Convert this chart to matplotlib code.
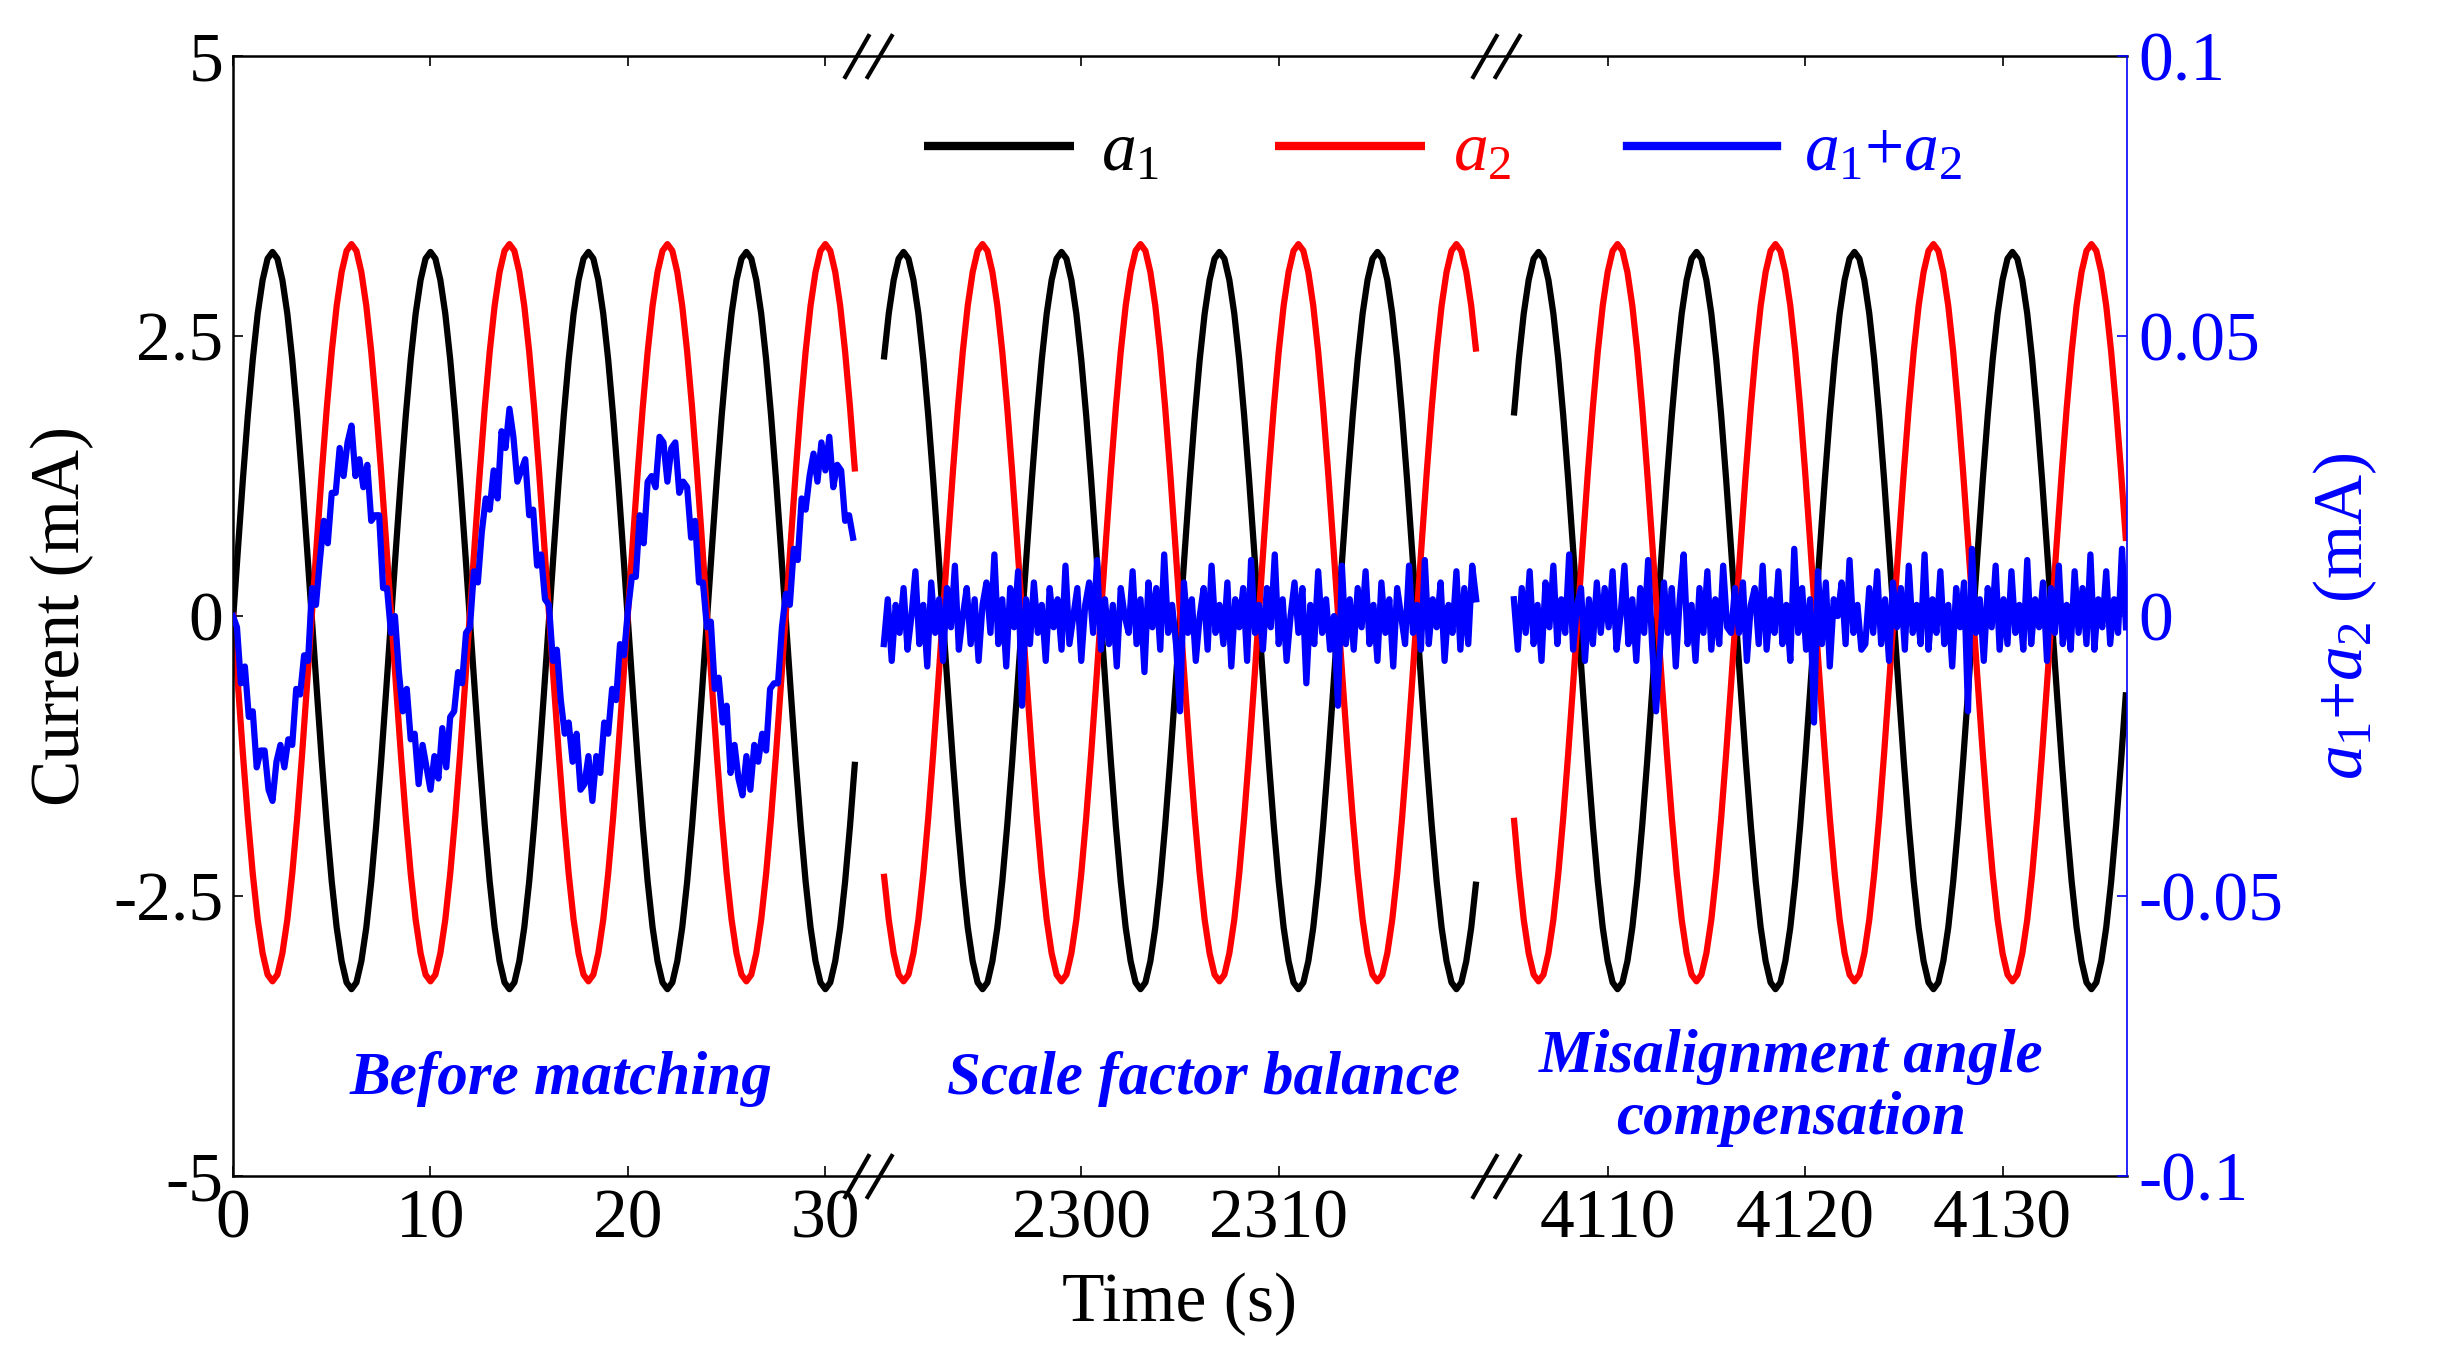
import numpy as np
import matplotlib
matplotlib.use("Agg")
import matplotlib.pyplot as plt
from matplotlib.path import Path
from matplotlib.transforms import blended_transform_factory

SAMPLE_STEP = 0.25
seg_starts = [0.0, 2290.0, 4105.25]

a1_before = [
    -0.04, 0.60, 1.22, 1.79, 2.29, 2.70, 3.00, 3.19, 3.25, 3.19, 3.00, 2.70, 2.29, 1.79, 1.22, 0.60,
    -0.04, -0.68, -1.30, -1.87, -2.37, -2.78, -3.08, -3.27, -3.33, -3.27, -3.08, -2.78, -2.37, -1.87, -1.30, -0.68,
    -0.04, 0.60, 1.22, 1.79, 2.29, 2.70, 3.00, 3.19, 3.25, 3.19, 3.00, 2.70, 2.29, 1.79, 1.22, 0.60,
    -0.04, -0.68, -1.30, -1.87, -2.37, -2.78, -3.08, -3.27, -3.33, -3.27, -3.08, -2.78, -2.37, -1.87, -1.30, -0.68,
    -0.04, 0.60, 1.22, 1.79, 2.29, 2.70, 3.00, 3.19, 3.25, 3.19, 3.00, 2.70, 2.29, 1.79, 1.22, 0.60,
    -0.04, -0.68, -1.30, -1.87, -2.37, -2.78, -3.08, -3.27, -3.33, -3.27, -3.08, -2.78, -2.37, -1.87, -1.30, -0.68,
    -0.04, 0.60, 1.22, 1.79, 2.29, 2.70, 3.00, 3.19, 3.25, 3.19, 3.00, 2.70, 2.29, 1.79, 1.22, 0.60,
    -0.04, -0.68, -1.30, -1.87, -2.37, -2.78, -3.08, -3.27, -3.33, -3.27, -3.08, -2.78, -2.37, -1.87, -1.30,
]
a2_before = [
    0.03, -0.61, -1.23, -1.80, -2.30, -2.71, -3.01, -3.20, -3.26, -3.20, -3.01, -2.71, -2.30, -1.80, -1.23, -0.61,
    0.03, 0.67, 1.29, 1.86, 2.36, 2.77, 3.07, 3.26, 3.32, 3.26, 3.07, 2.77, 2.36, 1.86, 1.29, 0.67,
    0.03, -0.61, -1.23, -1.80, -2.30, -2.71, -3.01, -3.20, -3.26, -3.20, -3.01, -2.71, -2.30, -1.80, -1.23, -0.61,
    0.03, 0.67, 1.29, 1.86, 2.36, 2.77, 3.07, 3.26, 3.32, 3.26, 3.07, 2.77, 2.36, 1.86, 1.29, 0.67,
    0.03, -0.61, -1.23, -1.80, -2.30, -2.71, -3.01, -3.20, -3.26, -3.20, -3.01, -2.71, -2.30, -1.80, -1.23, -0.61,
    0.03, 0.67, 1.29, 1.86, 2.36, 2.77, 3.07, 3.26, 3.32, 3.26, 3.07, 2.77, 2.36, 1.86, 1.29, 0.67,
    0.03, -0.61, -1.23, -1.80, -2.30, -2.71, -3.01, -3.20, -3.26, -3.20, -3.01, -2.71, -2.30, -1.80, -1.23, -0.61,
    0.03, 0.67, 1.29, 1.86, 2.36, 2.77, 3.07, 3.26, 3.32, 3.26, 3.07, 2.77, 2.36, 1.86, 1.29,
]

a1_scale = [
    2.29, 2.70, 3.00, 3.19, 3.25, 3.19, 3.00, 2.70, 2.29, 1.79, 1.22, 0.60, -0.04, -0.68, -1.30, -1.87,
    -2.37, -2.78, -3.08, -3.27, -3.33, -3.27, -3.08, -2.78, -2.37, -1.87, -1.30, -0.68, -0.04, 0.60, 1.22, 1.79,
    2.29, 2.70, 3.00, 3.19, 3.25, 3.19, 3.00, 2.70, 2.29, 1.79, 1.22, 0.60, -0.04, -0.68, -1.30, -1.87,
    -2.37, -2.78, -3.08, -3.27, -3.33, -3.27, -3.08, -2.78, -2.37, -1.87, -1.30, -0.68, -0.04, 0.60, 1.22, 1.79,
    2.29, 2.70, 3.00, 3.19, 3.25, 3.19, 3.00, 2.70, 2.29, 1.79, 1.22, 0.60, -0.04, -0.68, -1.30, -1.87,
    -2.37, -2.78, -3.08, -3.27, -3.33, -3.27, -3.08, -2.78, -2.37, -1.87, -1.30, -0.68, -0.04, 0.60, 1.22, 1.79,
    2.29, 2.70, 3.00, 3.19, 3.25, 3.19, 3.00, 2.70, 2.29, 1.79, 1.22, 0.60, -0.04, -0.68, -1.30, -1.87,
    -2.37, -2.78, -3.08, -3.27, -3.33, -3.27, -3.08, -2.78, -2.37,
]
a2_scale = [
    -2.30, -2.71, -3.01, -3.20, -3.26, -3.20, -3.01, -2.71, -2.30, -1.80, -1.23, -0.61, 0.03, 0.67, 1.29, 1.86,
    2.36, 2.77, 3.07, 3.26, 3.32, 3.26, 3.07, 2.77, 2.36, 1.86, 1.29, 0.67, 0.03, -0.61, -1.23, -1.80,
    -2.30, -2.71, -3.01, -3.20, -3.26, -3.20, -3.01, -2.71, -2.30, -1.80, -1.23, -0.61, 0.03, 0.67, 1.29, 1.86,
    2.36, 2.77, 3.07, 3.26, 3.32, 3.26, 3.07, 2.77, 2.36, 1.86, 1.29, 0.67, 0.03, -0.61, -1.23, -1.80,
    -2.30, -2.71, -3.01, -3.20, -3.26, -3.20, -3.01, -2.71, -2.30, -1.80, -1.23, -0.61, 0.03, 0.67, 1.29, 1.86,
    2.36, 2.77, 3.07, 3.26, 3.32, 3.26, 3.07, 2.77, 2.36, 1.86, 1.29, 0.67, 0.03, -0.61, -1.23, -1.80,
    -2.30, -2.71, -3.01, -3.20, -3.26, -3.20, -3.01, -2.71, -2.30, -1.80, -1.23, -0.61, 0.03, 0.67, 1.29, 1.86,
    2.36, 2.77, 3.07, 3.26, 3.32, 3.26, 3.07, 2.77, 2.36,
]

a1_misalign = [
    1.79, 2.29, 2.70, 3.00, 3.19, 3.25, 3.19, 3.00, 2.70, 2.29, 1.79, 1.22, 0.60, -0.04, -0.68, -1.30,
    -1.87, -2.37, -2.78, -3.08, -3.27, -3.33, -3.27, -3.08, -2.78, -2.37, -1.87, -1.30, -0.68, -0.04, 0.60, 1.22,
    1.79, 2.29, 2.70, 3.00, 3.19, 3.25, 3.19, 3.00, 2.70, 2.29, 1.79, 1.22, 0.60, -0.04, -0.68, -1.30,
    -1.87, -2.37, -2.78, -3.08, -3.27, -3.33, -3.27, -3.08, -2.78, -2.37, -1.87, -1.30, -0.68, -0.04, 0.60, 1.22,
    1.79, 2.29, 2.70, 3.00, 3.19, 3.25, 3.19, 3.00, 2.70, 2.29, 1.79, 1.22, 0.60, -0.04, -0.68, -1.30,
    -1.87, -2.37, -2.78, -3.08, -3.27, -3.33, -3.27, -3.08, -2.78, -2.37, -1.87, -1.30, -0.68, -0.04, 0.60, 1.22,
    1.79, 2.29, 2.70, 3.00, 3.19, 3.25, 3.19, 3.00, 2.70, 2.29, 1.79, 1.22, 0.60, -0.04, -0.68, -1.30,
    -1.87, -2.37, -2.78, -3.08, -3.27, -3.33, -3.27, -3.08, -2.78, -2.37, -1.87, -1.30, -0.68,
]
a2_misalign = [
    -1.80, -2.30, -2.71, -3.01, -3.20, -3.26, -3.20, -3.01, -2.71, -2.30, -1.80, -1.23, -0.61, 0.03, 0.67, 1.29,
    1.86, 2.36, 2.77, 3.07, 3.26, 3.32, 3.26, 3.07, 2.77, 2.36, 1.86, 1.29, 0.67, 0.03, -0.61, -1.23,
    -1.80, -2.30, -2.71, -3.01, -3.20, -3.26, -3.20, -3.01, -2.71, -2.30, -1.80, -1.23, -0.61, 0.03, 0.67, 1.29,
    1.86, 2.36, 2.77, 3.07, 3.26, 3.32, 3.26, 3.07, 2.77, 2.36, 1.86, 1.29, 0.67, 0.03, -0.61, -1.23,
    -1.80, -2.30, -2.71, -3.01, -3.20, -3.26, -3.20, -3.01, -2.71, -2.30, -1.80, -1.23, -0.61, 0.03, 0.67, 1.29,
    1.86, 2.36, 2.77, 3.07, 3.26, 3.32, 3.26, 3.07, 2.77, 2.36, 1.86, 1.29, 0.67, 0.03, -0.61, -1.23,
    -1.80, -2.30, -2.71, -3.01, -3.20, -3.26, -3.20, -3.01, -2.71, -2.30, -1.80, -1.23, -0.61, 0.03, 0.67, 1.29,
    1.86, 2.36, 2.77, 3.07, 3.26, 3.32, 3.26, 3.07, 2.77, 2.36, 1.86, 1.29, 0.67,
]

# a1+a2 in units of 0.001 mA (right axis), spanning each segment
sum_spans = [(0.0, 31.4), (2290.0, 2320.0), (4105.25, 4136.25)]
sum_before = [
    0, -2, -12, -9, -18, -17, -27, -24, -24, -31, -33, -26, -23, -27, -22, -23, -13, -14, -7, -8,
    5, 2, 10, 17, 13, 22, 22, 30, 25, 31, 34, 25, 28, 23, 27, 17, 18, 18, 5, 5,
    -3, 0, -10, -17, -13, -22, -21, -30, -23, -27, -31, -25, -29, -20, -27, -18, -17, -10, -12, -3,
    -2, 8, 6, 15, 21, 19, 26, 21, 33, 30, 37, 32, 24, 26, 28, 18, 19, 9, 11, 3,
    2, -8, -6, -15, -21, -19, -26, -21, -31, -30, -25, -33, -25, -28, -19, -21, -13, -15, -5, -7,
    1, 7, 7, 18, 13, 24, 25, 23, 32, 31, 24, 30, 31, 22, 24, 23, 14, 17, 6, 6,
    -2, -1, -13, -11, -19, -16, -28, -23, -29, -32, -25, -31, -23, -26, -21, -24, -13, -12, -12, -2,
    4, 2, 12, 10, 21, 19, 25, 29, 24, 31, 26, 32, 23, 27, 26, 17, 18, 14,
]
sum_scale = [
    -5, 3, -8, 2, -3, 5, -6, 0, 8, -5, 2, -9, 6, -3, 3, -8, 5, -2, 9, -6,
    0, 5, -5, 3, -8, 2, 6, -3, 11, -5, 3, -9, 5, -2, 8, -16, 3, -5, 6, -3,
    2, -8, 5, -2, 3, -6, 9, -5, 0, 5, -8, 2, 6, -3, 10, -6, 3, -5, 2, -9,
    5, 0, -3, 8, -5, 3, -10, 6, -2, 5, -6, 11, -3, 2, -5, -17, 6, -3, 3, -8,
    0, 5, -6, 9, -3, 2, -5, 6, -9, 3, -2, 5, -8, 10, -3, 2, -6, 5, -2, 11,
    -5, 3, -8, 0, 6, -3, 5, -12, 2, -5, 8, -3, 3, -6, 0, -16, 9, -5, 3, -6,
    5, -2, 8, -5, 2, -8, 6, -3, 3, -9, 5, 0, -5, 9, -3, 2, -6, 10, -5, 3,
    -2, 6, -8, 2, -3, 8, -6, 5, -5, 9, 3,
]
sum_misalign = [
    3, -6, 5, -3, 8, -5, 2, -8, 6, -2, 9, -5, 3, -3, 11, -6, 2, 5, -8, 3,
    -5, 6, -3, 5, -2, 8, -6, 0, 9, -5, 3, -8, 5, -3, 10, -5, -17, -6, 6, -3,
    5, -9, 3, 11, -5, 2, -8, 5, -3, 8, -6, 3, -5, 9, -2, -3, 5, -3, 6, -8,
    2, 5, -5, 9, -6, 3, -3, 8, -5, 2, -8, 12, -3, 5, -6, 3, -19, 8, -5, 6,
    -9, 3, 0, 6, -5, 10, -3, 2, -6, -5, 5, -3, 8, -5, 3, -8, 6, -2, 5, -6,
    9, -3, 2, -5, 11, -6, 3, -3, 8, -5, 2, -9, 5, -2, 6, -17, 12, -3, 3, -8,
    5, -2, 9, -6, 3, -5, 8, -3, 2, -6, 10, -5, 3, -2, 6, -8, 5, -3, 9, -5,
    2, -6, 8, -3, 5, -5, 11, -6, 3, -2, 8, -5, 3, -3, 12, -2,
]

x_ticks = [0, 10, 20, 30, 2300, 2310, 4110, 4120, 4130]
y_ticks = [-5, -2.5, 0, 2.5, 5]
y_tick_labels = ["-5", "-2.5", "0", "2.5", "5"]
y2_ticks = [-0.1, -0.05, 0, 0.05, 0.1]
y2_tick_labels = ["-0.1", "-0.05", "0", "0.05", "0.1"]
stage_names = ["Before matching", "Scale factor balance",
               "Misalignment angle\ncompensation"]

# broken time axis: real time -> compressed axis position
T_KNOTS = [-100.0, 0.0, 31.5, 2289.9, 2320.1, 4105.2, 4136.3, 4236.3]
U_KNOTS = [-100.0, 0.0, 31.5, 32.86, 63.06, 64.82, 95.92, 195.92]


def fwd(t):
    return np.interp(t, T_KNOTS, U_KNOTS)


def inv(u):
    return np.interp(u, U_KNOTS, T_KNOTS)


plt.rcParams["font.family"] = ["Liberation Serif", "DejaVu Serif"]
plt.rcParams["mathtext.fontset"] = "custom"
plt.rcParams["mathtext.rm"] = "Liberation Serif"
plt.rcParams["mathtext.it"] = "Liberation Serif:italic"
plt.rcParams["mathtext.bf"] = "Liberation Serif:bold"

BLUE = "#0000ff"
RED = "#ff0000"
FS = 50
LW = 4.5

fig = plt.figure(figsize=(24.4, 13.63), dpi=100)
ax = fig.add_axes([0.0955, 0.137, 0.7762, 0.822])
ax.set_xscale("function", functions=(fwd, inv))

a1_segs = [a1_before, a1_scale, a1_misalign]
a2_segs = [a2_before, a2_scale, a2_misalign]
for i, (s1, s2) in enumerate(zip(a1_segs, a2_segs)):
    t = seg_starts[i] + SAMPLE_STEP * np.arange(len(s1))
    l1, = ax.plot(t, s1, color="k", lw=LW, solid_capstyle="butt")
    l2, = ax.plot(t, s2, color=RED, lw=LW, solid_capstyle="butt")

ax.set_xlim(0, 4136.3)
ax.set_ylim(-5, 5)
ax.set_xticks(x_ticks)
ax.set_xticklabels([str(v) for v in x_ticks])
ax.set_yticks(y_ticks)
ax.set_yticklabels(y_tick_labels)
ax.minorticks_off()
ax.tick_params(direction="in", length=7, width=1.2, top=True, right=False,
               labelsize=FS, pad=7)
ax.tick_params(axis="x", pad=9.5)
ax.set_xlabel("Time (s)", fontsize=FS, labelpad=14)
ax.set_ylabel("Current (mA)", fontsize=FS, labelpad=14)
for side in ("left", "top", "bottom"):
    ax.spines[side].set_linewidth(1.8)
ax.spines["right"].set_visible(False)

ax2 = ax.twinx()
for i, seg in enumerate([sum_before, sum_scale, sum_misalign]):
    t = np.linspace(sum_spans[i][0], sum_spans[i][1], len(seg))
    l3, = ax2.plot(t, np.array(seg) * 1e-3, color=BLUE, lw=LW)
ax2.set_ylim(-0.1, 0.1)
ax2.set_yticks(y2_ticks)
ax2.set_yticklabels(y2_tick_labels)
ax2.minorticks_off()
ax2.tick_params(axis="y", direction="in", length=7, width=1.2, colors=BLUE,
                labelsize=FS, pad=8)
for side in ("left", "top", "bottom"):
    ax2.spines[side].set_visible(False)
ax2.spines["right"].set_color(BLUE)
ax2.spines["right"].set_linewidth(1.2)
ax2.set_ylabel(r"$a_1$+$a_2$ (mA)", fontsize=FS, color=BLUE, labelpad=20)

leg = ax2.legend([l1, l2, l3], [r"$a_1$", r"$a_2$", r"$a_1$+$a_2$"],
                 loc="center", bbox_to_anchor=(0.639, 0.913), ncol=3,
                 frameon=False, fontsize=FS, handlelength=2.16,
                 handletextpad=0.39, columnspacing=1.67, labelcolor="linecolor")
for h in leg.get_lines():
    h.set_linewidth(6)

# stage annotations
ax2.text(16.6, -0.0826, stage_names[0], color=BLUE, fontsize=44,
         fontweight="bold", fontstyle="italic", ha="center", va="center")
ax2.text(2306.2, -0.0826, stage_names[1], color=BLUE, fontsize=44,
         fontweight="bold", fontstyle="italic", ha="center", va="center")
ax2.text(4119.3, -0.0842, stage_names[2], color=BLUE, fontsize=44,
         fontweight="bold", fontstyle="italic", ha="center", va="center",
         linespacing=1.15)

# break marks on top and bottom spines
brk = Path([(-1.09, -1), (0.05, 1), (-0.09, -1), (1.09, 1)],
           [Path.MOVETO, Path.LINETO, Path.MOVETO, Path.LINETO])
trans = blended_transform_factory(ax.transData, ax.transAxes)
for u_mid in (32.18, 63.94):
    t_mid = inv(u_mid)
    ax.plot([t_mid, t_mid], [0, 1], transform=trans, linestyle="none",
            marker=brk, markersize=35, mfc="none", mec="k", mew=3,
            clip_on=False, zorder=5)

fig.savefig("out.png", dpi=100)
